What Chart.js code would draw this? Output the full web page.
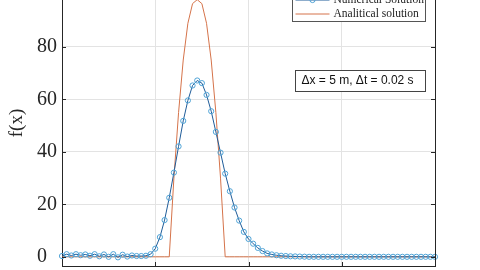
<!DOCTYPE html>
<html>
<head>
<meta charset="utf-8">
<script src="https://cdn.jsdelivr.net/npm/chart.js@4.4.0/dist/chart.umd.min.js"></script>
<style>
  html, body { margin: 0; padding: 0; width: 480px; height: 270px; overflow: hidden; background: #fff; }
  /* the original figure is cropped at the top, so the canvas starts above the window */
  #wrap { position: absolute; left: 0; top: -20px; width: 480px; height: 290px; }
</style>
</head>
<body>
<div id="wrap"><canvas id="chart" width="480" height="290"></canvas></div>
<script>
// x positions (m), dx = 5
const xPos = [
  0, 5, 10, 15, 20, 25, 30, 35, 40, 45, 50, 55, 60, 65, 70, 75, 80, 85, 90, 95,
  100, 105, 110, 115, 120, 125, 130, 135, 140, 145, 150, 155, 160, 165, 170, 175, 180, 185, 190, 195,
  200, 205, 210, 215, 220, 225, 230, 235, 240, 245, 250, 255, 260, 265, 270, 275, 280, 285, 290, 295,
  300, 305, 310, 315, 320, 325, 330, 335, 340, 345, 350, 355, 360, 365, 370, 375, 380, 385, 390, 395,
  400
];
const numerical = [
  0.3, 1.0, 0.5, 1.0, 0.6, 0.9, 0.4, 1.0, 0.2, 0.9, 0.0, 1.0, -0.2, 0.8, 0.1, 0.5, 0.3, 0.3, 0.4, 1.0,
  3.1, 7.5, 14.0, 22.5, 32.1, 42.1, 51.8, 59.6, 65.3, 67.2, 66.2, 61.7, 55.5, 47.6, 39.7, 31.7, 25.0, 18.8, 13.8, 9.5,
  6.8, 5.0, 3.4, 2.2, 1.3, 0.9, 0.6, 0.4, 0.3, 0.2, 0.15, 0.1, 0.05, 0, 0, 0, 0, 0, 0, 0,
  0, 0, 0, 0, 0, 0, 0, 0, 0, 0, 0, 0, 0, 0, 0, 0, 0, 0, 0, 0,
  0
];
const analytical = [
  0, 0, 0, 0, 0, 0, 0, 0, 0, 0, 0, 0, 0, 0, 0, 0, 0, 0, 0, 0,
  0, 0, 0, 0, 30, 55, 75, 89, 96.5, 98, 96.5, 89, 75, 55, 30, 0, 0, 0, 0, 0,
  0, 0, 0, 0, 0, 0, 0, 0, 0, 0, 0, 0, 0, 0, 0, 0, 0, 0, 0, 0,
  0, 0, 0, 0, 0, 0, 0, 0, 0, 0, 0, 0, 0, 0, 0, 0, 0, 0, 0, 0,
  0
];
const xTicks = [0, 100, 200, 300, 400];
const yTicks = [0, 20, 40, 60, 80, 100];
const seriesNames = ['Numerical Solution', 'Analitical solution'];
const yTitle = 'f(x)';
const noteText = '\u0394x = 5 m, \u0394t = 0.02 s';

const axisColor = '#262626';
const gridColor = '#e3e3e3';

// box, inside ticks, legend, note and y title (MATLAB look)
const figureExtras = {
  id: 'figureExtras',
  afterDraw(chart) {
    const ctx = chart.ctx;
    const ca = chart.chartArea;
    const xs = chart.scales.x, ys = chart.scales.y;
    ctx.save();
    ctx.strokeStyle = axisColor;
    ctx.lineWidth = 1;
    ctx.beginPath();
    ctx.moveTo(ca.left, ca.top + 0.5); ctx.lineTo(ca.right, ca.top + 0.5);
    ctx.moveTo(ca.right + 0.5, ca.top); ctx.lineTo(ca.right + 0.5, ca.bottom);
    yTicks.forEach(v => {
      const py = Math.round(ys.getPixelForValue(v)) + 0.5;
      ctx.moveTo(ca.left, py); ctx.lineTo(ca.left + 4, py);
      ctx.moveTo(ca.right - 4, py); ctx.lineTo(ca.right, py);
    });
    xTicks.forEach(v => {
      const px = Math.round(xs.getPixelForValue(v)) + 0.5;
      ctx.moveTo(px, ca.bottom); ctx.lineTo(px, ca.bottom - 4);
      ctx.moveTo(px, ca.top); ctx.lineTo(px, ca.top + 4);
    });
    ctx.stroke();

    // y title
    ctx.save();
    ctx.translate(17.5, (ca.top + ca.bottom) / 2);
    ctx.rotate(-Math.PI / 2);
    ctx.font = '19px "Liberation Serif"';
    ctx.fillStyle = axisColor;
    ctx.textAlign = 'center';
    ctx.textBaseline = 'middle';
    ctx.fillText(yTitle, 0, 0);
    ctx.restore();

    // legend
    const lr = ca.right - 9.5, ll = 292.5, lt = ca.top + 12.5, lb = ca.top + 41.5;
    ctx.fillStyle = '#fff';
    ctx.fillRect(ll, lt, lr - ll, lb - lt);
    ctx.strokeStyle = '#555';
    ctx.strokeRect(ll, lt, lr - ll, lb - lt);
    const rows = [ca.top + 20, ca.top + 34];
    chart.data.datasets.forEach((ds, i) => {
      const y = rows[i];
      ctx.strokeStyle = ds.borderColor;
      ctx.lineWidth = 1;
      ctx.beginPath();
      ctx.moveTo(ll + 3, y); ctx.lineTo(ll + 37, y);
      ctx.stroke();
      if (ds.pointRadius > 0) {
        ctx.strokeStyle = ds.pointBorderColor;
        ctx.beginPath();
        ctx.arc(ll + 20, y, ds.pointRadius, 0, Math.PI * 2);
        ctx.stroke();
      }
      ctx.fillStyle = '#222';
      ctx.font = '11.5px "Liberation Serif"';
      ctx.textAlign = 'left';
      ctx.textBaseline = 'middle';
      ctx.fillText(ds.label, ll + 41, y);
    });

    // note box
    const nl = 295.5, nt = ca.top + 90.5, nb = ca.top + 111.5;
    ctx.fillStyle = '#fff';
    ctx.fillRect(nl, nt, lr - nl, nb - nt);
    ctx.strokeStyle = '#444';
    ctx.strokeRect(nl, nt, lr - nl, nb - nt);
    ctx.fillStyle = '#111';
    ctx.font = '12px "Liberation Sans"';
    ctx.textAlign = 'left';
    ctx.textBaseline = 'middle';
    ctx.fillText(noteText, nl + 6, (nt + nb) / 2);
    ctx.restore();
  }
};

const ctx = document.getElementById('chart').getContext('2d');
const chart = new Chart(ctx, {
  type: 'line',
  data: {
    datasets: [
      {
        label: seriesNames[0],
        data: xPos.map((x, i) => ({ x: x, y: numerical[i] })),
        borderColor: '#1f5c99',
        borderWidth: 1,
        pointRadius: 2.6,
        pointBorderWidth: 1,
        pointBorderColor: '#4fa3d6',
        pointBackgroundColor: 'rgba(255,255,255,0)',
        tension: 0,
        clip: false
      },
      {
        label: seriesNames[1],
        data: xPos.map((x, i) => ({ x: x, y: analytical[i] })),
        borderColor: '#d5734a',
        borderWidth: 1,
        pointRadius: 0,
        tension: 0
      }
    ]
  },
  options: {
    responsive: false,
    devicePixelRatio: 1,
    animation: false,
    layout: { autoPadding: false, padding: { left: 37, right: 45, top: 0, bottom: 4 } },
    plugins: { legend: { display: false }, tooltip: { enabled: false } },
    scales: {
      x: {
        type: 'linear',
        min: 0,
        max: 400,
        afterBuildTicks: s => { s.ticks = xTicks.map(v => ({ value: v })); },
        afterFit: s => { s.height = 0; s.paddingLeft = 0; s.paddingRight = 0; },
        ticks: { display: false },
        grid: { color: gridColor, drawTicks: false },
        border: { display: true, color: axisColor, width: 1 }
      },
      y: {
        min: -3.5,
        max: 105.5,
        afterBuildTicks: s => { s.ticks = yTicks.map(v => ({ value: v })); },
        afterFit: s => { s.width = 25; s.paddingTop = 0; s.paddingBottom = 0; },
        ticks: {
          crossAlign: 'far',
          padding: 0,
          color: axisColor,
          font: { family: 'Liberation Serif', size: 20 }
        },
        grid: { color: gridColor, drawTicks: false },
        border: { display: true, color: axisColor, width: 1 }
      }
    }
  },
  plugins: [figureExtras]
});
</script>
</body>
</html>
